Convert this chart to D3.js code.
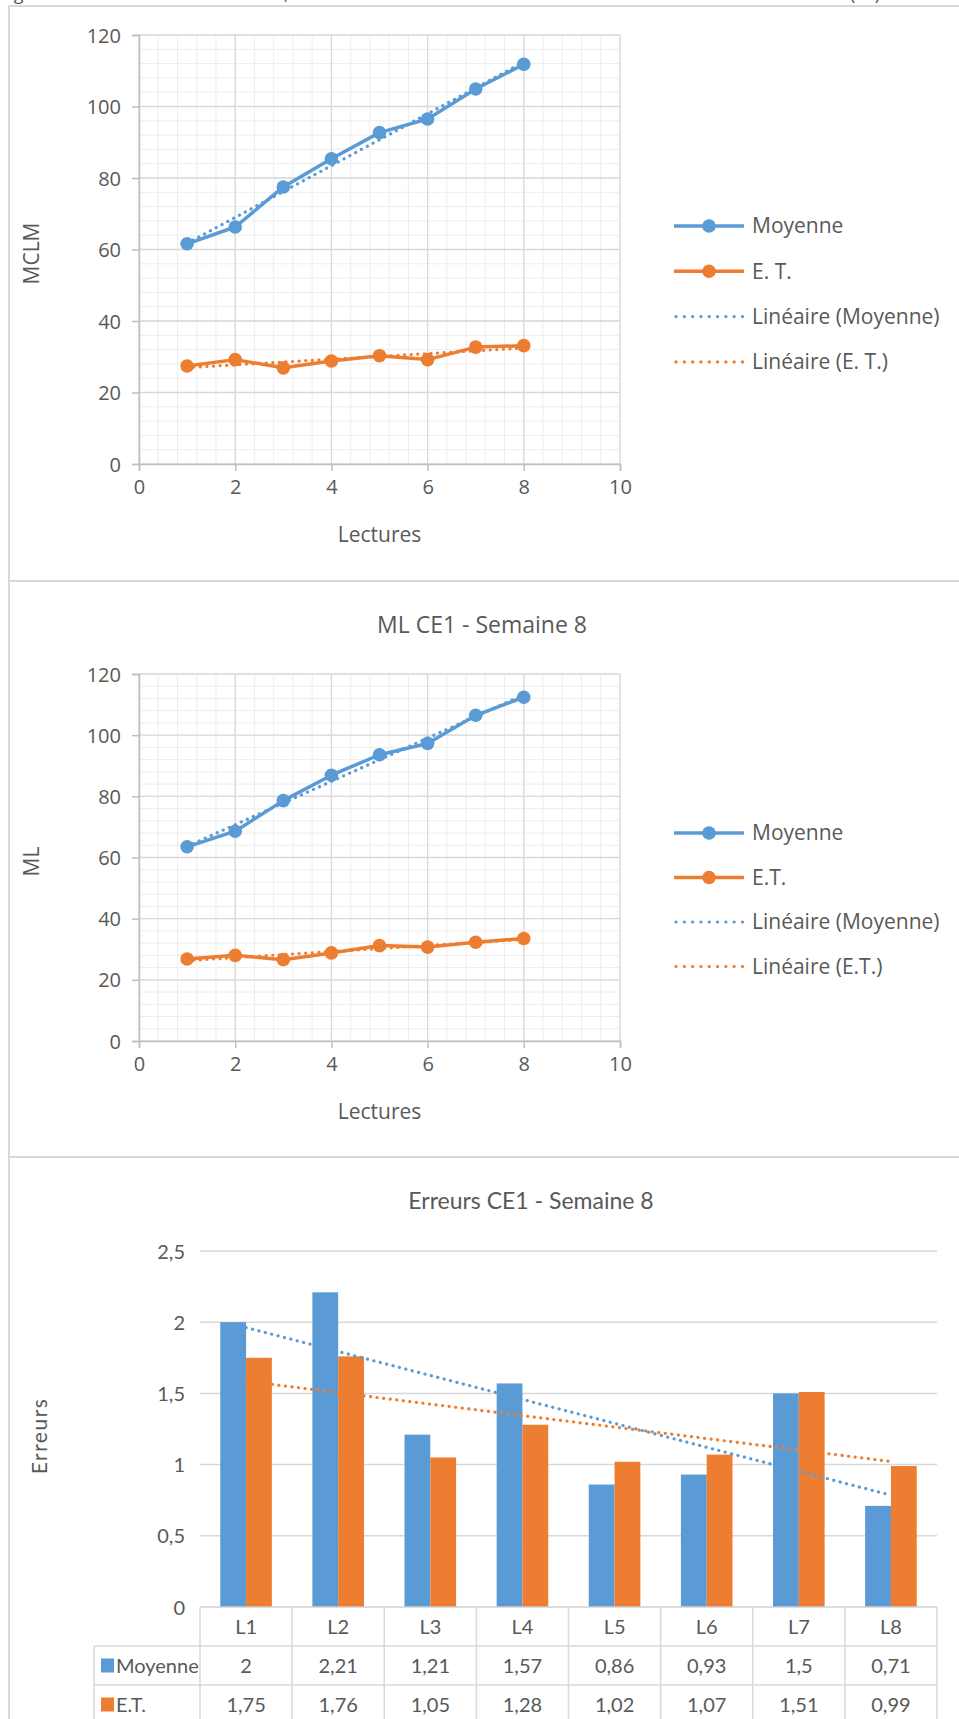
<!DOCTYPE html>
<html><head><meta charset="utf-8">
<script src="https://cdn.jsdelivr.net/npm/d3@7"></script>
<style>
body{margin:0;background:#fff}
svg{display:block}
text{font-family:'Open Sans',sans-serif;fill:#595959}
.cal text, text.cal{font-family:Lato,'Open Sans',sans-serif}
</style>
</head><body>
<svg id="chart" width="959" height="1719"></svg>
<script>
// ---------- DATA ----------
const lectures = [1, 2, 3, 4, 5, 6, 7, 8];
const mclmMoyenne = [61.6, 66.3, 77.5, 85.4, 92.7, 96.5, 104.9, 111.8];
const mclmET = [27.4, 29.2, 26.9, 28.8, 30.3, 29.2, 32.7, 33.1];
const mlMoyenne = [63.5, 68.6, 78.6, 86.9, 93.6, 97.3, 106.5, 112.4];
const mlET = [26.8, 28.0, 26.6, 28.8, 31.2, 30.7, 32.3, 33.5];
const xTicks = [0, 2, 4, 6, 8, 10];
const yTicks = [0, 20, 40, 60, 80, 100, 120];
const legendTop = ["Moyenne", "E. T.", "Linéaire (Moyenne)", "Linéaire (E. T.)"];
const legendMid = ["Moyenne", "E.T.", "Linéaire (Moyenne)", "Linéaire (E.T.)"];
const categories = ["L1", "L2", "L3", "L4", "L5", "L6", "L7", "L8"];
const errMoyenne = [2, 2.21, 1.21, 1.57, 0.86, 0.93, 1.5, 0.71];
const errET = [1.75, 1.76, 1.05, 1.28, 1.02, 1.07, 1.51, 0.99];
const errTicks = [0, 0.5, 1, 1.5, 2, 2.5];
const seriesNames = ["Moyenne", "E.T."];

const BLUE = "#5B9BD5", ORANGE = "#ED7D31", TEXT = "#595959";
const fr = d3.formatLocale({decimal: ",", thousands: " ", grouping: [3], currency: ["", "€"]});
const fmt = fr.format("");

const svg = d3.select("#chart");

function linReg(xs, ys) {
  const mx = d3.mean(xs), my = d3.mean(ys);
  let sxy = 0, sxx = 0;
  xs.forEach((x, i) => { sxy += (x - mx) * (ys[i] - my); sxx += (x - mx) * (x - mx); });
  const b = sxy / sxx, a = my - b * mx;
  return x => a + b * x;
}

// ---------- frame ----------
const frame = svg.append("g").attr("fill", "none").attr("stroke", "#d9d9d9").attr("stroke-width", 2);
frame.append("path").attr("d", "M9,1719V6H959");
frame.append("path").attr("d", "M9,581H959");
frame.append("path").attr("d", "M9,1157H959");

// cut caption at top (only the bottom of the line is visible)
const cap = svg.append("g").attr("font-size", 18);
cap.append("text").attr("x", 0).attr("y", 0).text("Figure");
cap.append("text").attr("x", 284).attr("y", 0).text(",");
cap.append("text").attr("x", 850).attr("y", 0).text("(EL)");

// ---------- scatter charts ----------
function scatter(opt) {
  const g = svg.append("g");
  const x = d3.scaleLinear().domain([0, 10]).range([139, 620]);
  const y = d3.scaleLinear().domain([0, 120]).range([opt.bottom, opt.top]);
  // minor grid
  const gm = g.append("g").attr("stroke", "#ededed").attr("stroke-width", 1);
  d3.range(0, 10.0001, 0.4).forEach(v => gm.append("line").attr("x1", x(v)).attr("x2", x(v)).attr("y1", y(0)).attr("y2", y(120)));
  d3.range(0, 120.0001, 4).forEach(v => gm.append("line").attr("x1", x(0)).attr("x2", x(10)).attr("y1", y(v)).attr("y2", y(v)));
  // major grid
  const gM = g.append("g").attr("stroke", "#d9d9d9").attr("stroke-width", 1.3);
  xTicks.forEach(v => gM.append("line").attr("x1", x(v)).attr("x2", x(v)).attr("y1", y(0)).attr("y2", y(120)));
  yTicks.forEach(v => gM.append("line").attr("x1", x(0)).attr("x2", x(10)).attr("y1", y(v)).attr("y2", y(v)));
  // axes
  const xa = g.append("g").attr("transform", `translate(0,${y(0)})`)
    .call(d3.axisBottom(x).tickValues(xTicks).tickSize(7).tickPadding(9).tickFormat(fmt));
  const ya = g.append("g").attr("transform", `translate(${x(0)},0)`)
    .call(d3.axisLeft(y).tickValues(yTicks).tickSize(7).tickPadding(11).tickFormat(fmt));
  [xa, ya].forEach(a => {
    a.select(".domain").attr("stroke", "#bfbfbf").attr("stroke-width", 1.5);
    a.selectAll(".tick line").attr("stroke", "#bfbfbf").attr("stroke-width", 1.5);
    a.selectAll(".tick text").attr("font-size", 20).attr("fill", TEXT).attr("font-family", "'Open Sans',sans-serif");
  });
  ya.selectAll(".tick text").attr("dy", "0.35em");
  // titles
  g.append("text").attr("x", x(5)).attr("y", opt.bottom + 78).attr("text-anchor", "middle").attr("font-size", 21).text("Lectures");
  g.append("text").attr("transform", `translate(39,${(opt.top + opt.bottom) / 2 + 4}) rotate(-90)`).attr("text-anchor", "middle").attr("font-size", 21).text(opt.yTitle);
  if (opt.title) g.append("text").attr("x", 482).attr("y", opt.titleY).attr("text-anchor", "middle").attr("font-size", 23).text(opt.title);
  // series
  const series = [{v: opt.mo, c: BLUE}, {v: opt.et, c: ORANGE}];
  const line = d3.line().x((d, i) => x(lectures[i])).y(d => y(d));
  series.forEach(s => {
    g.append("path").datum(s.v).attr("d", line).attr("fill", "none").attr("stroke", s.c).attr("stroke-width", 3.5).attr("stroke-linejoin", "round");
    g.selectAll(null).data(s.v).enter().append("circle").attr("cx", (d, i) => x(lectures[i])).attr("cy", d => y(d)).attr("r", 6.8).attr("fill", s.c);
  });
  series.forEach(s => {
    const f = linReg(lectures, s.v);
    g.append("line").attr("x1", x(1)).attr("y1", y(f(1))).attr("x2", x(8)).attr("y2", y(f(8)))
      .attr("stroke", s.c).attr("stroke-width", 3.2).attr("stroke-dasharray", "0.1 6.5").attr("stroke-linecap", "round");
  });
  // legend
  const lg = g.append("g");
  opt.legend.forEach((name, i) => {
    const ly = opt.legY + i * opt.legStep;
    const c = i % 2 === 0 ? BLUE : ORANGE;
    if (i < 2) {
      lg.append("line").attr("x1", 674).attr("x2", 744).attr("y1", ly).attr("y2", ly).attr("stroke", c).attr("stroke-width", 3.5);
      lg.append("circle").attr("cx", 709).attr("cy", ly).attr("r", 6.8).attr("fill", c);
    } else {
      lg.append("line").attr("x1", 676).attr("x2", 744).attr("y1", ly).attr("y2", ly).attr("stroke", c).attr("stroke-width", 3.2).attr("stroke-dasharray", "0.1 8.2").attr("stroke-linecap", "round");
    }
    lg.append("text").attr("x", 752).attr("y", ly).attr("dy", "0.35em").attr("font-size", 21).text(name);
  });
}

scatter({top: 35, bottom: 464, mo: mclmMoyenne, et: mclmET, yTitle: "MCLM", legend: legendTop, legY: 226, legStep: 45.3});
scatter({top: 674, bottom: 1041, mo: mlMoyenne, et: mlET, yTitle: "ML", legend: legendMid, legY: 833, legStep: 44.5, title: "ML CE1 - Semaine 8", titleY: 633});

// ---------- bar chart with data table ----------
(function () {
  const g = svg.append("g").attr("class", "cal");
  const x = d3.scaleBand().domain(categories).range([200, 937]);
  const bw = x.bandwidth();
  const y = d3.scaleLinear().domain([0, 2.5]).range([1607, 1251]);
  // gridlines
  errTicks.filter(v => v > 0).forEach(v => g.append("line").attr("x1", 200).attr("x2", 937).attr("y1", y(v)).attr("y2", y(v)).attr("stroke", "#d9d9d9").attr("stroke-width", 1.5));
  // y labels
  const ya = g.append("g").attr("transform", "translate(200,0)").call(d3.axisLeft(y).tickValues(errTicks).tickSize(0).tickPadding(15).tickFormat(fmt));
  ya.select(".domain").remove();
  ya.selectAll(".tick text").attr("font-size", 20).attr("fill", TEXT).attr("font-family", "Lato,'Open Sans',sans-serif").attr("dy", "0.35em");
  // titles
  g.append("text").attr("x", 531).attr("y", 1209).attr("text-anchor", "middle").attr("font-size", 23).text("Erreurs CE1 - Semaine 8");
  g.append("text").attr("transform", "translate(47,1436) rotate(-90)").attr("text-anchor", "middle").attr("font-size", 21).attr("letter-spacing", 1.5).text("Erreurs");
  // bars
  const w = bw * 0.28;
  const sets = [{v: errMoyenne, c: BLUE, off: -w}, {v: errET, c: ORANGE, off: 0}];
  sets.forEach(s => {
    g.selectAll(null).data(s.v).enter().append("rect")
      .attr("x", (d, i) => x(categories[i]) + bw / 2 + s.off).attr("width", w)
      .attr("y", d => y(d)).attr("height", d => y(0) - y(d)).attr("fill", s.c);
  });
  // trendlines
  const idx = categories.map((c, i) => i + 1);
  sets.forEach(s => {
    const f = linReg(idx, s.v);
    g.append("line").attr("x1", x(categories[0]) + bw / 2).attr("y1", y(f(1))).attr("x2", x(categories[7]) + bw / 2).attr("y2", y(f(8)))
      .attr("stroke", s.c).attr("stroke-width", 3.2).attr("stroke-dasharray", "0.1 6.5").attr("stroke-linecap", "round");
  });
  // data table
  const rowH = 39, t0 = 1607, LX = 94;
  const tg = g.append("g").attr("stroke", "#d9d9d9").attr("stroke-width", 1.5).attr("fill", "none");
  tg.append("line").attr("x1", 200).attr("x2", 937).attr("y1", t0).attr("y2", t0).attr("stroke", "#d0d0d0");
  [1, 2].forEach(r => tg.append("line").attr("x1", LX).attr("x2", 937).attr("y1", t0 + r * rowH).attr("y2", t0 + r * rowH));
  categories.forEach((c, i) => tg.append("line").attr("x1", x(c)).attr("x2", x(c)).attr("y1", t0).attr("y2", 1719));
  tg.append("line").attr("x1", 937).attr("x2", 937).attr("y1", t0).attr("y2", 1719);
  tg.append("line").attr("x1", LX).attr("x2", LX).attr("y1", t0 + rowH).attr("y2", 1719);
  const txt = g.append("g").attr("font-size", 20);
  categories.forEach((c, i) => txt.append("text").attr("x", x(c) + bw / 2).attr("y", t0 + rowH / 2).attr("dy", "0.35em").attr("text-anchor", "middle").text(c));
  [errMoyenne, errET].forEach((vals, r) => {
    const cy = t0 + (r + 1.5) * rowH;
    vals.forEach((v, i) => txt.append("text").attr("x", x(categories[i]) + bw / 2).attr("y", cy).attr("dy", "0.35em").attr("text-anchor", "middle").text(fmt(v)));
    g.append("rect").attr("x", LX + 7).attr("y", cy - 7).attr("width", 13).attr("height", 14).attr("fill", r === 0 ? BLUE : ORANGE);
    txt.append("text").attr("x", LX + 22).attr("y", cy).attr("dy", "0.35em").text(seriesNames[r]);
  });
})();
</script>
</body></html>
